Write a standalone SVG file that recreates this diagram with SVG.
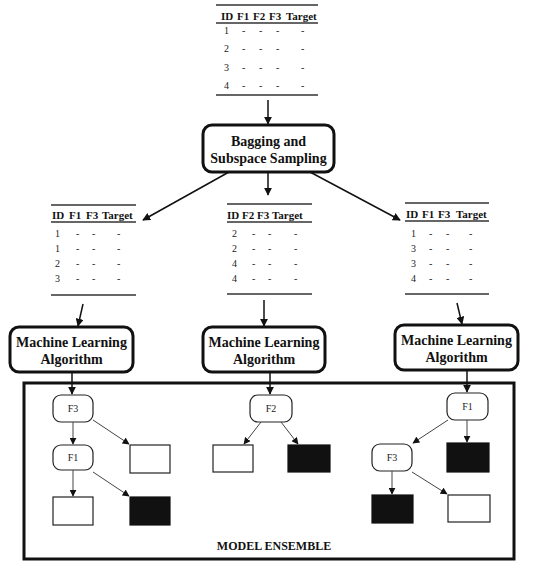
<svg xmlns="http://www.w3.org/2000/svg" width="534" height="564" viewBox="0 0 534 564">
<defs>
<marker id="ah" viewBox="0 0 10 10" refX="9" refY="5" markerWidth="7" markerHeight="7" markerUnits="userSpaceOnUse" orient="auto"><path d="M0,0 L10,5 L0,10 z" fill="#111"/></marker>
<marker id="ah2" viewBox="0 0 10 10" refX="9" refY="5" markerWidth="8" markerHeight="8" markerUnits="userSpaceOnUse" orient="auto"><path d="M0,0 L10,5 L0,10 z" fill="#111"/></marker>
</defs>
<style>
.hd{font-family:"Liberation Serif",serif;font-weight:bold;font-size:11px;fill:#111}
.rv{font-family:"Liberation Serif",serif;font-size:10px;fill:#222}
.rule{stroke:#333;stroke-width:1.5}
.box{fill:#fff;stroke:#111;stroke-width:3}
.bt{font-family:"Liberation Serif",serif;font-weight:bold;font-size:14px;fill:#111;text-anchor:middle}
.nd{fill:#fff;stroke:#222;stroke-width:1.2}
.nt{font-family:"Liberation Serif",serif;font-size:10px;fill:#222;text-anchor:middle}
.leafw{fill:#fff;stroke:#222;stroke-width:1.2}
.leafb{fill:#111;stroke:#111;stroke-width:1.2}
.c{stroke:#111;stroke-width:1.5;fill:none;marker-end:url(#ah2)}
.t{stroke:#444;stroke-width:1;fill:none;marker-end:url(#ah)}
</style>

<g id="table-top">
<line class="rule" x1="216" y1="5" x2="318" y2="5"/>
<text class="hd" y="20"><tspan x="221">ID</tspan><tspan x="237">F1</tspan><tspan x="253">F2</tspan><tspan x="269">F3</tspan><tspan x="286">Target</tspan></text>
<line class="rule" x1="216" y1="23" x2="318" y2="23"/>
<g class="rv">
<text y="34"><tspan x="224">1</tspan><tspan x="242">-</tspan><tspan x="259">-</tspan><tspan x="276">-</tspan><tspan x="301">-</tspan></text>
<text y="52"><tspan x="224">2</tspan><tspan x="242">-</tspan><tspan x="259">-</tspan><tspan x="276">-</tspan><tspan x="301">-</tspan></text>
<text y="71"><tspan x="224">3</tspan><tspan x="242">-</tspan><tspan x="259">-</tspan><tspan x="276">-</tspan><tspan x="301">-</tspan></text>
<text y="89"><tspan x="224">4</tspan><tspan x="242">-</tspan><tspan x="259">-</tspan><tspan x="276">-</tspan><tspan x="301">-</tspan></text>
</g>
<line class="rule" x1="216" y1="95" x2="318" y2="95"/>
</g>

<g id="bagging">
<rect class="box" x="203" y="125" width="131" height="47" rx="9"/>
<text class="bt" x="268.5" y="146">Bagging and</text>
<text class="bt" x="268.5" y="163">Subspace Sampling</text>
</g>

<g id="table-left">
<line class="rule" x1="51" y1="205" x2="136" y2="205"/>
<text class="hd" y="219"><tspan x="52">ID</tspan><tspan x="69">F1</tspan><tspan x="86">F3</tspan><tspan x="102">Target</tspan></text>
<line class="rule" x1="51" y1="222" x2="136" y2="222"/>
<g class="rv">
<text y="237"><tspan x="55">1</tspan><tspan x="76">-</tspan><tspan x="92">-</tspan><tspan x="117">-</tspan></text>
<text y="252"><tspan x="55">1</tspan><tspan x="76">-</tspan><tspan x="92">-</tspan><tspan x="117">-</tspan></text>
<text y="267"><tspan x="55">2</tspan><tspan x="76">-</tspan><tspan x="92">-</tspan><tspan x="117">-</tspan></text>
<text y="282"><tspan x="55">3</tspan><tspan x="76">-</tspan><tspan x="92">-</tspan><tspan x="117">-</tspan></text>
</g>
<line class="rule" x1="51" y1="295" x2="136" y2="295"/>
</g>

<g id="table-mid">
<line class="rule" x1="227" y1="204" x2="312" y2="204"/>
<text class="hd" y="219"><tspan x="227">ID</tspan><tspan x="242">F2</tspan><tspan x="257">F3</tspan><tspan x="272">Target</tspan></text>
<line class="rule" x1="227" y1="222" x2="312" y2="222"/>
<g class="rv">
<text y="237"><tspan x="232">2</tspan><tspan x="252">-</tspan><tspan x="268">-</tspan><tspan x="294">-</tspan></text>
<text y="252"><tspan x="232">2</tspan><tspan x="252">-</tspan><tspan x="268">-</tspan><tspan x="294">-</tspan></text>
<text y="267"><tspan x="232">4</tspan><tspan x="252">-</tspan><tspan x="268">-</tspan><tspan x="294">-</tspan></text>
<text y="282"><tspan x="232">4</tspan><tspan x="252">-</tspan><tspan x="268">-</tspan><tspan x="294">-</tspan></text>
</g>
<line class="rule" x1="227" y1="294" x2="312" y2="294"/>
</g>

<g id="table-right">
<line class="rule" x1="405" y1="203" x2="489" y2="203"/>
<text class="hd" y="218"><tspan x="406">ID</tspan><tspan x="422">F1</tspan><tspan x="438">F3</tspan><tspan x="456">Target</tspan></text>
<line class="rule" x1="405" y1="221" x2="489" y2="221"/>
<g class="rv">
<text y="237"><tspan x="411">1</tspan><tspan x="429">-</tspan><tspan x="446">-</tspan><tspan x="469">-</tspan></text>
<text y="252"><tspan x="411">3</tspan><tspan x="429">-</tspan><tspan x="446">-</tspan><tspan x="469">-</tspan></text>
<text y="267"><tspan x="411">3</tspan><tspan x="429">-</tspan><tspan x="446">-</tspan><tspan x="469">-</tspan></text>
<text y="282"><tspan x="411">4</tspan><tspan x="429">-</tspan><tspan x="446">-</tspan><tspan x="469">-</tspan></text>
</g>
<line class="rule" x1="405" y1="294" x2="489" y2="294"/>
</g>

<g id="ml-left">
<rect class="box" x="10" y="327" width="123" height="45" rx="9"/>
<text class="bt" x="71.5" y="347">Machine Learning</text>
<text class="bt" x="71.5" y="364">Algorithm</text>
</g>
<g id="ml-mid">
<rect class="box" x="203" y="327" width="122" height="45" rx="9"/>
<text class="bt" x="264" y="347">Machine Learning</text>
<text class="bt" x="264" y="364">Algorithm</text>
</g>
<g id="ml-right">
<rect class="box" x="395" y="325" width="123" height="45" rx="9"/>
<text class="bt" x="456.5" y="345">Machine Learning</text>
<text class="bt" x="456.5" y="362">Algorithm</text>
</g>

<g id="ensemble">
<rect x="24" y="383" width="490" height="176" fill="none" stroke="#111" stroke-width="3"/>
<text x="274" y="550" font-family="'Liberation Serif',serif" font-weight="bold" font-size="12" fill="#111" text-anchor="middle">MODEL ENSEMBLE</text>
</g>

<g id="tree-left">
<rect class="nd" x="53" y="395" width="40" height="27" rx="8"/>
<text class="nt" x="73" y="412">F3</text>
<rect class="nd" x="53" y="445" width="40" height="25" rx="8"/>
<text class="nt" x="73" y="461">F1</text>
<rect class="leafw" x="130" y="445" width="40" height="28"/>
<rect class="leafw" x="53" y="497" width="40" height="28"/>
<rect class="leafb" x="130" y="497" width="40" height="28"/>
</g>
<g id="tree-mid">
<rect class="nd" x="250" y="395" width="42" height="27" rx="8"/>
<text class="nt" x="271" y="412">F2</text>
<rect class="leafw" x="213" y="445" width="40" height="27"/>
<rect class="leafb" x="288" y="445" width="42" height="27"/>
</g>
<g id="tree-right">
<rect class="nd" x="447" y="393" width="41" height="27" rx="8"/>
<text class="nt" x="467.5" y="410">F1</text>
<rect class="leafb" x="447" y="443" width="42" height="29"/>
<rect class="nd" x="372" y="444" width="40" height="27" rx="8"/>
<text class="nt" x="392" y="461">F3</text>
<rect class="leafb" x="372" y="495" width="41" height="28"/>
<rect class="leafw" x="448" y="495" width="42" height="27"/>
</g>

<g id="connectors">
<line class="c" x1="268" y1="100" x2="268" y2="124"/>
<line class="c" x1="229" y1="172" x2="143" y2="220"/>
<line class="c" x1="268" y1="172" x2="268" y2="195"/>
<line class="c" x1="310" y1="172" x2="400" y2="220"/>
<line class="c" x1="83" y1="304" x2="78" y2="326"/>
<line class="c" x1="264" y1="300" x2="264" y2="326"/>
<line class="c" x1="457" y1="303" x2="462" y2="324"/>
<line class="c" x1="72" y1="372" x2="72" y2="394"/>
<line class="c" x1="270" y1="372" x2="270" y2="394"/>
<line class="c" x1="467" y1="370" x2="467" y2="392"/>
<line class="t" x1="73" y1="422" x2="73" y2="444"/>
<line class="t" x1="93" y1="420" x2="129" y2="444"/>
<line class="t" x1="73" y1="470" x2="73" y2="496"/>
<line class="t" x1="93" y1="472" x2="129" y2="496"/>
<line class="t" x1="261" y1="422" x2="244" y2="444"/>
<line class="t" x1="281" y1="422" x2="298" y2="444"/>
<line class="t" x1="467" y1="420" x2="467" y2="442"/>
<line class="t" x1="448" y1="420" x2="413" y2="443"/>
<line class="t" x1="392" y1="471" x2="392" y2="494"/>
<line class="t" x1="412" y1="472" x2="447" y2="494"/>
</g>
</svg>
